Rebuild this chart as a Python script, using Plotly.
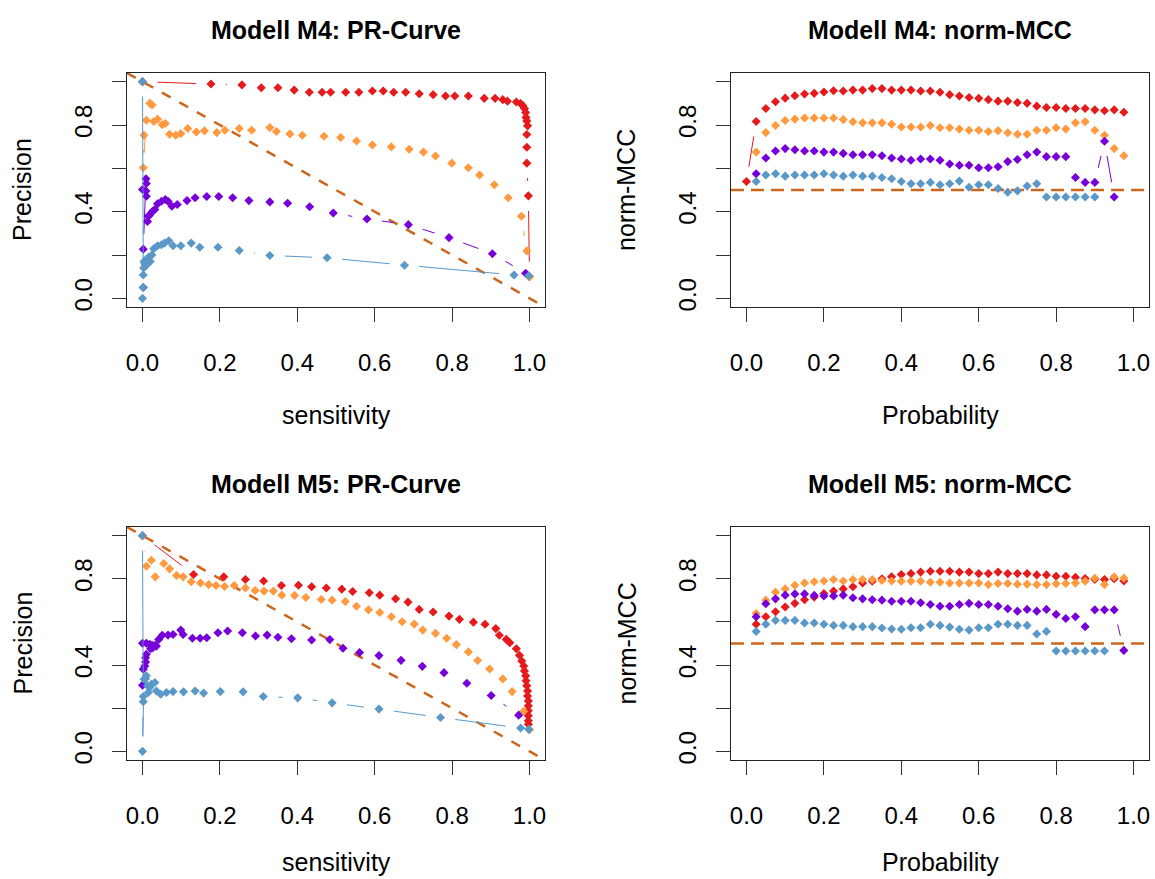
import math
import plotly.graph_objects as go

# ---------------- data ----------------
# Modell M4: PR-Curve (sensitivity, precision)
m4_pr_red_sens = [0.0, 0.177, 0.257, 0.307, 0.350, 0.392, 0.431, 0.464, 0.486, 0.525, 0.559, 0.594, 0.622, 0.649, 0.680,
                  0.715, 0.751, 0.783, 0.807, 0.842, 0.883, 0.911, 0.931, 0.943, 0.966, 0.977, 0.983, 0.987, 0.990, 0.991,
                  0.993, 0.995, 0.993, 0.993, 0.993, 0.997, 1.0]
m4_pr_red_prec = [1.0, 0.989, 0.985, 0.972, 0.972, 0.961, 0.951, 0.951, 0.951, 0.951, 0.951, 0.957, 0.957, 0.951, 0.951,
                  0.944, 0.940, 0.934, 0.934, 0.934, 0.923, 0.923, 0.917, 0.910, 0.906, 0.899, 0.889, 0.876, 0.858, 0.835,
                  0.819, 0.796, 0.756, 0.697, 0.624, 0.473, 0.100]
m4_pr_orange_sens = [0.004, 0.002, 0.010, 0.019, 0.025, 0.029, 0.039, 0.051, 0.059, 0.070, 0.086, 0.099, 0.117, 0.139,
                     0.160, 0.192, 0.213, 0.250, 0.282, 0.329, 0.346, 0.381, 0.413, 0.469, 0.512, 0.553, 0.594, 0.643,
                     0.689, 0.726, 0.757, 0.799, 0.842, 0.871, 0.909, 0.945, 0.979, 0.993, 1.0]
m4_pr_orange_prec = [0.753, 0.603, 0.822, 0.900, 0.892, 0.816, 0.827, 0.801, 0.807, 0.757, 0.753, 0.760, 0.784, 0.768,
                     0.773, 0.765, 0.776, 0.784, 0.776, 0.788, 0.770, 0.759, 0.753, 0.748, 0.742, 0.726, 0.708, 0.699,
                     0.688, 0.675, 0.657, 0.624, 0.603, 0.569, 0.524, 0.464, 0.379, 0.219, 0.100]
m4_pr_purple_sens = [0.002, 0.002, 0.009, 0.010, 0.0, 0.009, 0.010, 0.015, 0.013, 0.019, 0.026, 0.032, 0.039, 0.049,
                     0.059, 0.066, 0.076, 0.090, 0.115, 0.136, 0.166, 0.197, 0.233, 0.275, 0.329, 0.375, 0.432, 0.493,
                     0.580, 0.687, 0.792, 0.904, 0.990]
m4_pr_purple_prec = [0.05, 0.227, 0.552, 0.530, 0.502, 0.495, 0.471, 0.379, 0.355, 0.386, 0.402, 0.410, 0.436, 0.448,
                     0.456, 0.448, 0.425, 0.433, 0.451, 0.464, 0.470, 0.470, 0.464, 0.451, 0.445, 0.439, 0.423, 0.394,
                     0.366, 0.340, 0.280, 0.206, 0.116]
m4_pr_blue_sens = [0.0, 0.002, 0.002, 0.0, 0.003, 0.006, 0.004, 0.008, 0.010, 0.013, 0.016, 0.020, 0.024, 0.029, 0.039,
                   0.049, 0.057, 0.068, 0.079, 0.099, 0.126, 0.148, 0.195, 0.250, 0.329, 0.477, 0.677, 0.960, 0.998]
m4_pr_blue_prec = [1.0, 0.108, 0.05, 0.0, 0.14, 0.16, 0.17, 0.15, 0.18, 0.16, 0.19, 0.17, 0.20, 0.229, 0.243,
                   0.247, 0.255, 0.266, 0.243, 0.243, 0.255, 0.236, 0.236, 0.221, 0.198, 0.187, 0.153, 0.108, 0.104]

# Modell M5: PR-Curve
m5_pr_red_sens = [0.0, 0.132, 0.210, 0.266, 0.313, 0.359, 0.403, 0.437, 0.475, 0.515, 0.543, 0.586, 0.613, 0.654, 0.686,
                  0.715, 0.751, 0.792, 0.819, 0.855, 0.885, 0.913, 0.922, 0.940, 0.949, 0.966, 0.974, 0.980, 0.985, 0.987,
                  0.990, 0.991, 0.993, 0.995, 0.995, 0.997, 0.997, 0.997, 0.997, 0.997, 0.997]
m5_pr_red_prec = [1.0, 0.820, 0.809, 0.797, 0.790, 0.769, 0.770, 0.763, 0.757, 0.752, 0.741, 0.735, 0.724, 0.707, 0.692,
                  0.658, 0.646, 0.627, 0.612, 0.599, 0.589, 0.569, 0.538, 0.519, 0.504, 0.476, 0.445, 0.419, 0.396, 0.373,
                  0.350, 0.327, 0.304, 0.280, 0.257, 0.234, 0.211, 0.188, 0.165, 0.142, 0.126]
m5_pr_orange_sens = [0.0, 0.010, 0.023, 0.033, 0.055, 0.070, 0.088, 0.105, 0.126, 0.150, 0.171, 0.190, 0.212, 0.237,
                     0.266, 0.291, 0.314, 0.338, 0.360, 0.393, 0.422, 0.462, 0.490, 0.524, 0.553, 0.584, 0.613, 0.643,
                     0.671, 0.702, 0.724, 0.757, 0.786, 0.811, 0.842, 0.866, 0.897, 0.931, 0.955, 0.985, 1.0]
m5_pr_orange_prec = [1.0, 0.858, 0.886, 0.809, 0.871, 0.846, 0.815, 0.809, 0.786, 0.781, 0.773, 0.769, 0.764, 0.769,
                     0.757, 0.746, 0.743, 0.743, 0.724, 0.723, 0.713, 0.704, 0.701, 0.695, 0.673, 0.656, 0.644, 0.624,
                     0.601, 0.590, 0.562, 0.547, 0.524, 0.495, 0.461, 0.421, 0.382, 0.336, 0.277, 0.186, 0.100]
m5_pr_purple_sens = [0.0, 0.002, 0.006, 0.008, 0.008, 0.010, 0.0, 0.010, 0.019, 0.021, 0.025, 0.027, 0.032, 0.036,
                     0.042, 0.051, 0.066, 0.079, 0.099, 0.105, 0.129, 0.149, 0.166, 0.195, 0.220, 0.258, 0.292, 0.322,
                     0.350, 0.385, 0.437, 0.484, 0.518, 0.561, 0.611, 0.668, 0.723, 0.779, 0.838, 0.901, 0.972]
m5_pr_purple_prec = [0.307, 0.381, 0.396, 0.414, 0.434, 0.450, 0.501, 0.501, 0.496, 0.476, 0.492, 0.481, 0.492, 0.488,
                     0.519, 0.538, 0.539, 0.542, 0.562, 0.542, 0.524, 0.524, 0.527, 0.550, 0.558, 0.550, 0.535, 0.539,
                     0.529, 0.522, 0.516, 0.518, 0.478, 0.458, 0.444, 0.422, 0.394, 0.365, 0.316, 0.259, 0.168]
m5_pr_blue_sens = [0.0, 0.002, 0.002, 0.0, 0.004, 0.010, 0.008, 0.013, 0.015, 0.019, 0.023, 0.032, 0.036, 0.047, 0.062,
                   0.079, 0.106, 0.136, 0.158, 0.201, 0.260, 0.312, 0.401, 0.490, 0.611, 0.770, 0.977, 0.998]
m5_pr_blue_prec = [1.0, 0.254, 0.230, 0.0, 0.334, 0.350, 0.337, 0.304, 0.273, 0.296, 0.311, 0.319, 0.280, 0.265, 0.273,
                   0.277, 0.276, 0.280, 0.270, 0.277, 0.276, 0.254, 0.248, 0.225, 0.196, 0.157, 0.108, 0.102]

# norm-MCC over probability threshold
probability = [0.0, 0.025, 0.05, 0.075, 0.1, 0.125, 0.15, 0.175, 0.2, 0.225, 0.25, 0.275, 0.3, 0.325, 0.35, 0.375,
               0.4, 0.425, 0.45, 0.475, 0.5, 0.525, 0.55, 0.575, 0.6, 0.625, 0.65, 0.675, 0.7, 0.725, 0.75, 0.775,
               0.8, 0.825, 0.85, 0.875, 0.9, 0.925, 0.95, 0.975]
m4_mcc_red = [0.539, 0.816, 0.876, 0.907, 0.924, 0.935, 0.943, 0.946, 0.952, 0.958,
              0.957, 0.961, 0.961, 0.968, 0.968, 0.961, 0.961, 0.961, 0.957, 0.957,
              0.951, 0.940, 0.934, 0.927, 0.923, 0.917, 0.910, 0.910, 0.904, 0.900,
              0.887, 0.881, 0.881, 0.876, 0.876, 0.876, 0.870, 0.866, 0.870, 0.859]
m4_mcc_orange = [None, 0.675, 0.765, 0.798, 0.821, 0.827, 0.832, 0.832, 0.832, 0.832,
                 0.825, 0.815, 0.810, 0.810, 0.810, 0.804, 0.791, 0.791, 0.791, 0.798,
                 0.787, 0.787, 0.781, 0.776, 0.776, 0.770, 0.774, 0.764, 0.757, 0.757,
                 0.776, 0.776, 0.787, 0.781, 0.810, 0.815, 0.776, 0.753, 0.691, 0.658]
m4_mcc_purple = [None, 0.575, 0.648, 0.680, 0.691, 0.686, 0.680, 0.680, 0.675, 0.675,
                 0.669, 0.663, 0.663, 0.663, 0.658, 0.648, 0.643, 0.637, 0.643, 0.643,
                 0.637, 0.620, 0.614, 0.614, 0.603, 0.603, 0.607, 0.631, 0.641, 0.663,
                 0.675, 0.654, 0.654, 0.654, 0.558, 0.535, 0.535, 0.725, 0.468, None]
m4_mcc_blue = [None, 0.539, 0.569, 0.575, 0.564, 0.569, 0.569, 0.569, 0.575, 0.569,
               0.564, 0.569, 0.564, 0.564, 0.558, 0.552, 0.539, 0.529, 0.529, 0.535,
               0.524, 0.529, 0.541, 0.513, 0.524, 0.524, 0.507, 0.490, 0.496, 0.518,
               0.529, 0.468, 0.468, 0.468, 0.468, 0.468, 0.468, None, None, None]
m5_mcc_red = [None, 0.589, 0.624, 0.647, 0.669, 0.686, 0.703, 0.715, 0.732, 0.743,
              0.753, 0.763, 0.781, 0.789, 0.800, 0.809, 0.820, 0.824, 0.831, 0.835,
              0.835, 0.835, 0.831, 0.831, 0.824, 0.824, 0.831, 0.824, 0.824, 0.824,
              0.818, 0.818, 0.812, 0.812, 0.807, 0.801, 0.797, 0.797, 0.800, 0.790]
m5_mcc_orange = [None, 0.639, 0.701, 0.738, 0.753, 0.770, 0.781, 0.786, 0.790, 0.797,
                 0.790, 0.797, 0.797, 0.797, 0.792, 0.790, 0.789, 0.789, 0.789, 0.784,
                 0.784, 0.780, 0.780, 0.780, 0.780, 0.773, 0.778, 0.778, 0.775, 0.775,
                 0.773, 0.773, 0.777, 0.778, 0.780, 0.789, 0.803, 0.773, 0.809, 0.803]
m5_mcc_purple = [None, 0.624, 0.684, 0.707, 0.724, 0.730, 0.730, 0.723, 0.720, 0.720,
                 0.724, 0.712, 0.707, 0.703, 0.701, 0.696, 0.696, 0.696, 0.689, 0.681,
                 0.673, 0.673, 0.681, 0.686, 0.681, 0.681, 0.673, 0.661, 0.650, 0.658,
                 0.650, 0.658, 0.635, 0.616, 0.624, 0.578, 0.656, 0.656, 0.656, 0.468]
m5_mcc_blue = [None, 0.556, 0.589, 0.607, 0.607, 0.607, 0.595, 0.595, 0.589, 0.584,
               0.584, 0.578, 0.578, 0.578, 0.572, 0.567, 0.566, 0.573, 0.573, 0.589,
               0.584, 0.576, 0.566, 0.562, 0.573, 0.573, 0.589, 0.589, 0.584, 0.584,
               0.544, 0.556, 0.465, 0.465, 0.465, 0.465, 0.465, 0.465, None, None]

tick_vals = [0.0, 0.2, 0.4, 0.6, 0.8, 1.0]
x_tick_text = ["0.0", "0.2", "0.4", "0.6", "0.8", "1.0"]
y_tick_text = ["0.0", "", "0.4", "", "0.8", ""]
baseline_mcc = 0.5

# ---------------- styling / layout ----------------
W, H = 1155, 879
C_RED, C_ORANGE, C_PURPLE, C_BLUE = "#E41A1C", "#FF9A40", "#7700D9", "#5A98C8"
C_REF = "#CD661D"
FONT = "Liberation Sans, Arial, sans-serif"
RNG = [-0.04, 1.04]
GAP = 15  # px gap left around each point (R type = "b")

# plot boxes in pixels: left, right, top, bottom
boxes = {
    1: (127, 545, 73, 307),
    2: (731, 1149, 73, 307),
    3: (127, 545, 527, 760),
    4: (731, 1149, 527, 760),
}


def gapped(xs, ys, box):
    l, r, t, b = box
    sx = (r - l) / (RNG[1] - RNG[0])
    sy = (b - t) / (RNG[1] - RNG[0])
    lx, ly = [], []
    for i in range(len(xs) - 1):
        if ys[i] is None or ys[i + 1] is None:
            continue
        dx = (xs[i + 1] - xs[i]) * sx
        dy = (ys[i + 1] - ys[i]) * sy
        d = math.hypot(dx, dy)
        if d <= 2 * GAP:
            continue
        f = GAP / d
        lx += [xs[i] + (xs[i + 1] - xs[i]) * f, xs[i + 1] - (xs[i + 1] - xs[i]) * f, None]
        ly += [ys[i] + (ys[i + 1] - ys[i]) * f, ys[i + 1] - (ys[i + 1] - ys[i]) * f, None]
    return lx, ly


fig = go.Figure()


def add_series(panel, xs, ys, color):
    ax = "" if panel == 1 else str(panel)
    lx, ly = gapped(xs, ys, boxes[panel])
    fig.add_trace(go.Scatter(x=lx, y=ly, mode="lines", line=dict(color=color, width=1),
                             xaxis="x" + ax, yaxis="y" + ax, hoverinfo="skip", showlegend=False))
    fig.add_trace(go.Scatter(x=xs, y=ys, mode="markers",
                             marker=dict(symbol="diamond", size=7, color=color, line=dict(width=0)),
                             xaxis="x" + ax, yaxis="y" + ax, showlegend=False))


def add_ref(panel, xs, ys, dash):
    ax = "" if panel == 1 else str(panel)
    fig.add_trace(go.Scatter(x=xs, y=ys, mode="lines", line=dict(color=C_REF, width=2.5, dash=dash),
                             xaxis="x" + ax, yaxis="y" + ax, hoverinfo="skip", showlegend=False))


# reference lines
add_ref(1, RNG, RNG[::-1], "10px,10px")
add_ref(3, RNG, RNG[::-1], "10px,10px")
add_ref(2, RNG, [baseline_mcc, baseline_mcc], "13px,7px")
add_ref(4, RNG, [baseline_mcc, baseline_mcc], "13px,7px")

add_series(1, m4_pr_red_sens, m4_pr_red_prec, C_RED)
add_series(1, m4_pr_orange_sens, m4_pr_orange_prec, C_ORANGE)
add_series(1, m4_pr_purple_sens, m4_pr_purple_prec, C_PURPLE)
add_series(1, m4_pr_blue_sens, m4_pr_blue_prec, C_BLUE)

add_series(2, probability, m4_mcc_red, C_RED)
add_series(2, probability, m4_mcc_orange, C_ORANGE)
add_series(2, probability, m4_mcc_purple, C_PURPLE)
add_series(2, probability, m4_mcc_blue, C_BLUE)

add_series(3, m5_pr_red_sens, m5_pr_red_prec, C_RED)
add_series(3, m5_pr_orange_sens, m5_pr_orange_prec, C_ORANGE)
add_series(3, m5_pr_purple_sens, m5_pr_purple_prec, C_PURPLE)
add_series(3, m5_pr_blue_sens, m5_pr_blue_prec, C_BLUE)

add_series(4, probability, m5_mcc_red, C_RED)
add_series(4, probability, m5_mcc_orange, C_ORANGE)
add_series(4, probability, m5_mcc_purple, C_PURPLE)
add_series(4, probability, m5_mcc_blue, C_BLUE)

layout = dict(width=W, height=H, margin=dict(l=0, r=0, t=0, b=0, autoexpand=False), paper_bgcolor="white",
              plot_bgcolor="white", showlegend=False, font=dict(family=FONT, color="black"))

common = dict(range=RNG, showgrid=False, zeroline=False, showline=True, mirror=True, linecolor="#222222",
              linewidth=1, ticks="outside", ticklen=14, tickwidth=1.2, tickcolor="#333333",
              tickfont=dict(family=FONT, size=24, color="black"), fixedrange=True, automargin=False,
              tickvals=tick_vals)

annotations = []
titles = {1: "Modell M4: PR-Curve", 2: "Modell M4: norm-MCC", 3: "Modell M5: PR-Curve", 4: "Modell M5: norm-MCC"}
xlabels = {1: "sensitivity", 2: "Probability", 3: "sensitivity", 4: "Probability"}
ylabels = {1: "Precision", 2: "norm-MCC", 3: "Precision", 4: "norm-MCC"}

for p, (l, r, t, b) in boxes.items():
    ax = "" if p == 1 else str(p)
    xd = [l / W, r / W]
    yd = [1 - b / H, 1 - t / H]
    layout["xaxis" + ax] = dict(common, domain=xd, anchor="y" + ax, ticktext=x_tick_text, ticklabelstandoff=20)
    layout["yaxis" + ax] = dict(common, domain=yd, anchor="x" + ax, ticktext=y_tick_text,
                                tickangle=-90, ticklabelstandoff=10)
    cx = (l + r) / 2 / W
    xlab_off = 108 if p in (1, 2) else 102
    annotations.append(dict(text="<b>" + titles[p] + "</b>", x=cx, y=1 - (t - 43) / H, xref="paper", yref="paper",
                            showarrow=False, xanchor="center", yanchor="middle",
                            font=dict(family=FONT, size=25, color="black")))
    annotations.append(dict(text=xlabels[p], x=cx, y=1 - (b + xlab_off) / H, xref="paper", yref="paper",
                            showarrow=False, xanchor="center", yanchor="middle",
                            font=dict(family=FONT, size=25, color="black")))
    annotations.append(dict(text=ylabels[p], x=(l - 105) / W, y=1 - (t + b) / 2 / H, xref="paper", yref="paper",
                            showarrow=False, xanchor="center", yanchor="middle", textangle=-90,
                            font=dict(family=FONT, size=25, color="black")))

layout["annotations"] = annotations
fig.update_layout(**layout)
fig.write_html("out.html", config={"displayModeBar": False},
               post_script="document.body.style.margin='0';document.body.style.padding='0';"
                           "document.body.style.overflow='hidden';")
